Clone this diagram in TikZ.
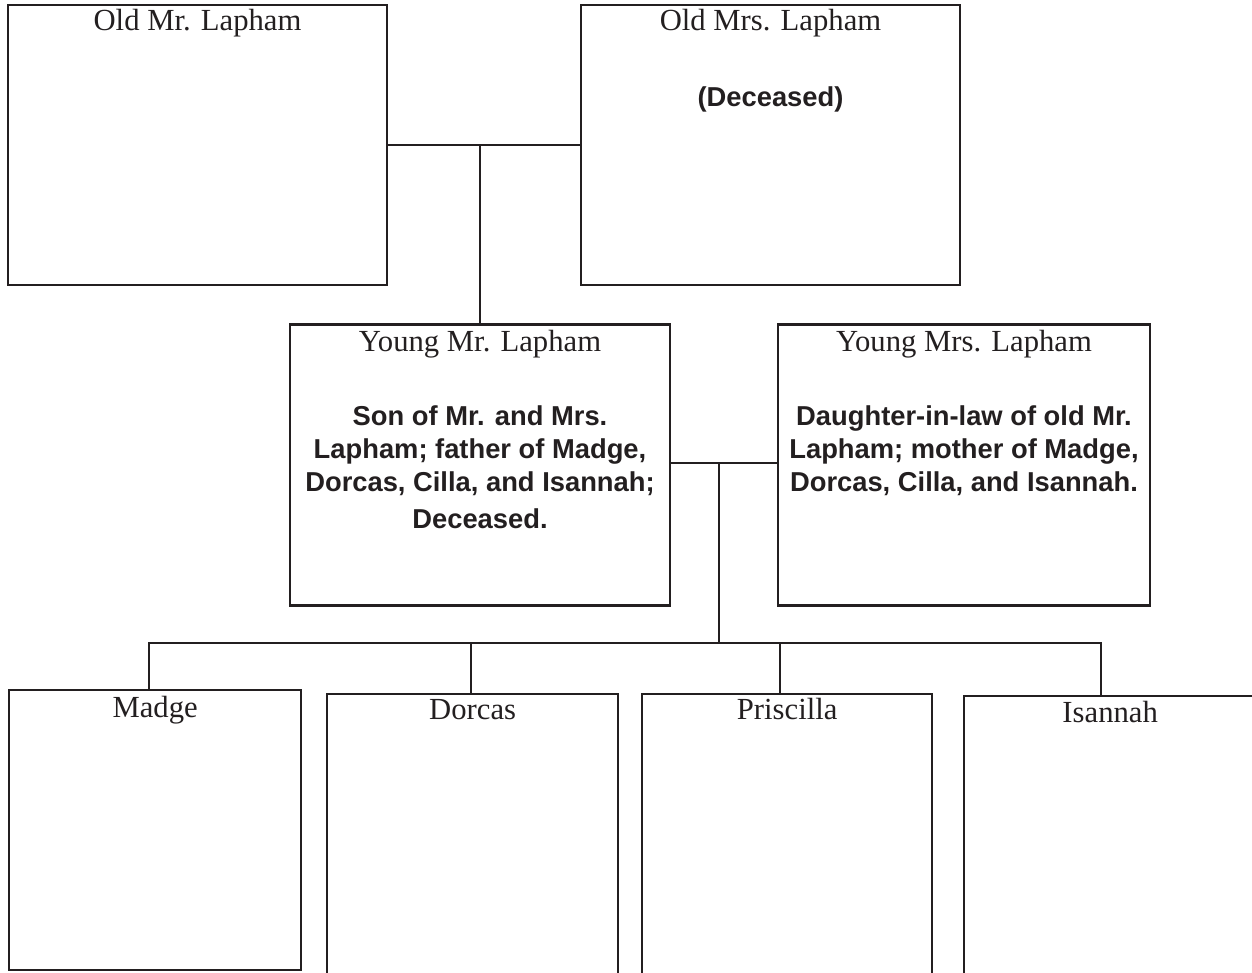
\documentclass[tikz,border=0pt]{standalone}
\usepackage{fontspec}
\setmainfont{Liberation Serif}
\setsansfont{Liberation Sans}
\usetikzlibrary{positioning,calc}
\definecolor{ink}{RGB}{35,31,32}

\begin{document}
\begin{tikzpicture}[x=0.75pt,y=-0.75pt,on grid,color=ink,line width=1.75pt,
    person/.style 2 args={draw,rectangle,inner sep=0pt,minimum width=#1,minimum height=#2},
    pname/.style={font=\fontsize{23}{27}\selectfont,inner sep=0pt,anchor=base},
    pnote/.style={font=\sffamily\bfseries\fontsize{20.5}{24.75}\selectfont,align=center,inner sep=0pt}]
        \clip (0,0) rectangle (1252,972);
        % parents
        \node[person={284.25pt}{210pt}] (omr) at (197.5,145) {};
        \node[person={284.25pt}{210pt}] (omrs) [right=429.75pt of omr] {};
        \node[person={285pt}{210.75pt}] (ymr) [below right=240pt and 211.875pt of omr] {};
        \node[person={279pt}{210.75pt}] (ymrs) [right=363pt of ymr] {};
        % children
        \node[person={219pt}{210pt},anchor=north west] (madge) at (8,689) {};
        \node[person={218.25pt}{225pt},anchor=north west] (dorcas) at (326,693) {};
        \node[person={217.5pt}{225pt},anchor=north west] (priscilla) at (641,693) {};
        \node[person={219pt}{225pt},anchor=north west] (isannah) at (963,695) {};

        \foreach \b/\t/\s in {omr/Old Mr. Lapham/20.25pt, omrs/Old Mrs. Lapham/20.25pt,
                ymr/Young Mr. Lapham/21pt, ymrs/Young Mrs. Lapham/21pt,
                madge/Madge/21pt, dorcas/Dorcas/19.5pt, priscilla/Priscilla/19.5pt, isannah/Isannah/20.25pt}
            \node[pname] (\b-t) at ([yshift=-\s]\b.north) {\t};

        \node[pnote,anchor=base] (omrs-n) at ([yshift=-77.25pt]omrs.north) {(Deceased)};
        \node[pnote,anchor=north] (ymr-n) at ([yshift=-60.75pt]ymr.north)
            {Son of Mr. and Mrs.\\Lapham; father of Madge,\\Dorcas, Cilla, and Isannah;\\[3pt]Deceased.};
        \node[pnote,anchor=north] (ymrs-n) at ([yshift=-60.75pt]ymrs.north)
            {Daughter-in-law of old Mr.\\Lapham; mother of Madge,\\Dorcas, Cilla, and Isannah.};

        % lines
        \coordinate (j2) at ($([yshift=1.5pt]ymr.east)!0.45!([yshift=1.5pt]ymrs.west)$);
        \coordinate (d1) at (149,643);
        \coordinate (d2) at (471,643);
        \coordinate (d3) at (780,643);
        \coordinate (d4) at (1101,643);
        \draw (omr.east) -- (omrs.west);
        \draw (ymr.north) -- (ymr.north |- omr.east);
        \draw ([yshift=1.5pt]ymr.east) -- ([yshift=1.5pt]ymrs.west);
        \draw (j2) -- (j2 |- d1);
        \draw (madge.north -| d1) -- (d1) -- (d4) -- (isannah.north -| d4);
        \draw (d2) -- (dorcas.north -| d2);
        \draw (d3) -- (priscilla.north -| d3);
\end{tikzpicture}
\end{document}
